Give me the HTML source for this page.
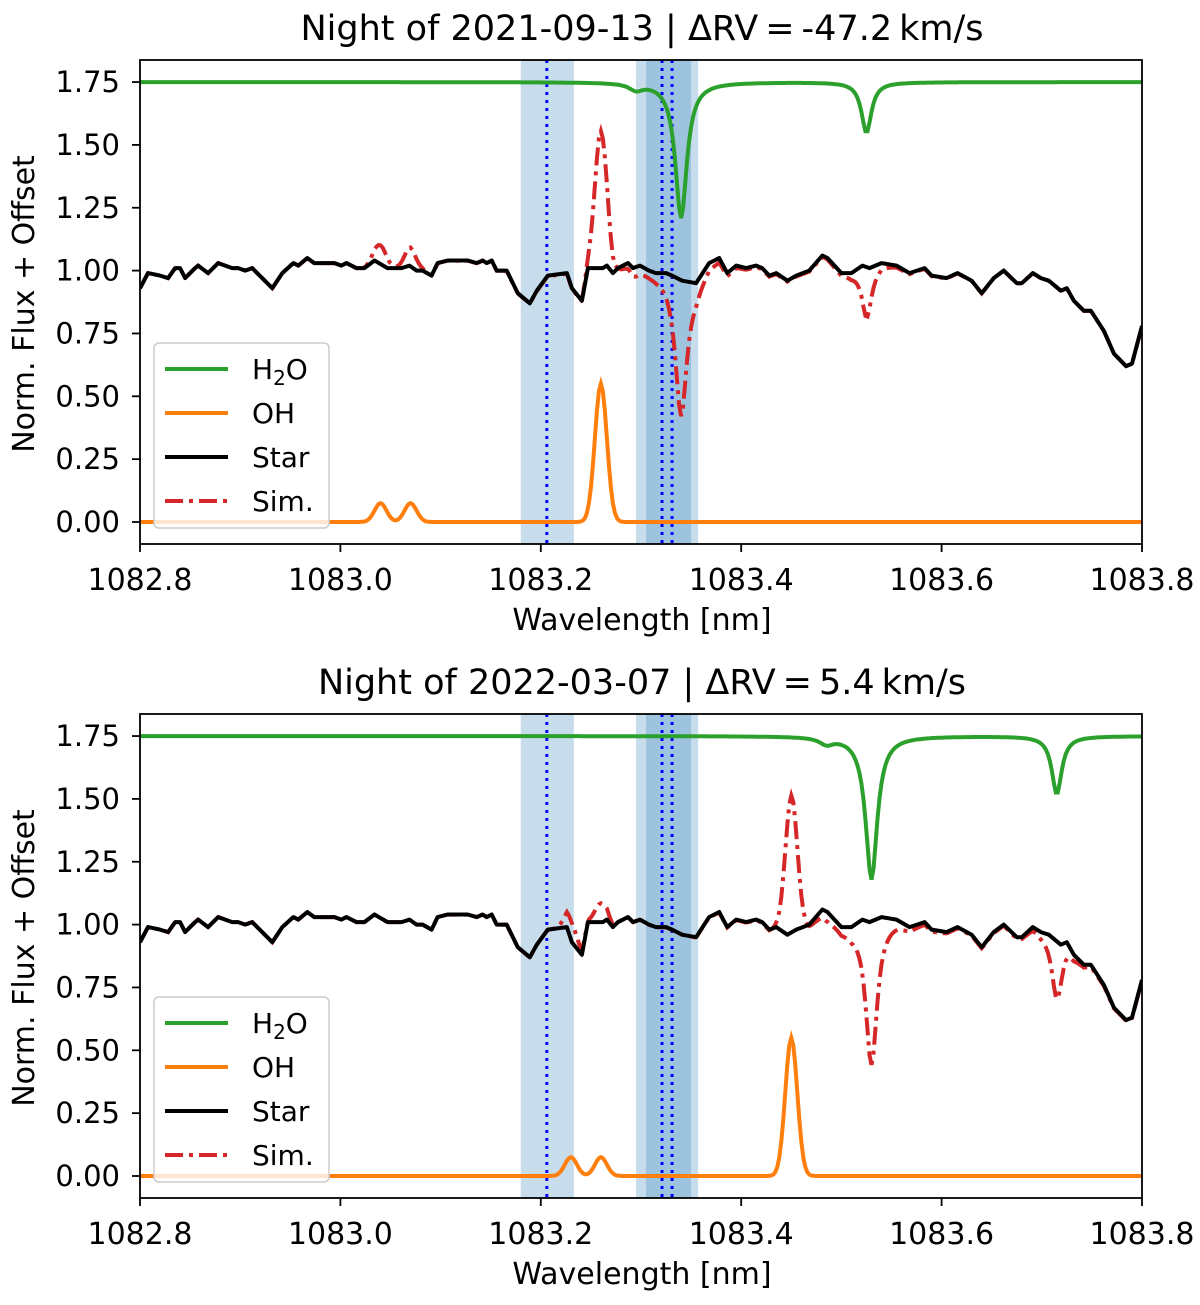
<!DOCTYPE html>
<html><head><meta charset="utf-8"><style>
body{margin:0;background:#fff;width:1200px;height:1300px;overflow:hidden}
svg{font-family:"DejaVu Sans","Liberation Sans",sans-serif}
</style></head><body>
<svg id="fig" width="1200" height="1300" xmlns="http://www.w3.org/2000/svg"></svg>
<script>
// Star spectrum (same in both panels)
const starWl=[1082.800,1082.808,1082.820,1082.828,1082.835,1082.840,1082.845,1082.855,1082.858,1082.868,1082.878,1082.892,1082.898,1082.905,1082.912,1082.922,1082.932,1082.942,1082.953,1082.958,1082.967,1082.974,1082.994,1083.001,1083.006,1083.016,1083.024,1083.034,1083.047,1083.061,1083.069,1083.076,1083.082,1083.091,1083.097,1083.107,1083.127,1083.136,1083.142,1083.146,1083.151,1083.156,1083.166,1083.177,1083.189,1083.196,1083.207,1083.226,1083.231,1083.241,1083.247,1083.256,1083.262,1083.266,1083.272,1083.277,1083.287,1083.292,1083.299,1083.308,1083.315,1083.325,1083.331,1083.341,1083.355,1083.368,1083.378,1083.386,1083.395,1083.405,1083.415,1083.421,1083.428,1083.435,1083.446,1083.455,1083.468,1083.481,1083.486,1083.500,1083.510,1083.521,1083.528,1083.540,1083.555,1083.568,1083.583,1083.590,1083.605,1083.616,1083.630,1083.640,1083.652,1083.662,1083.675,1083.680,1083.691,1083.699,1083.707,1083.719,1083.725,1083.732,1083.742,1083.749,1083.762,1083.772,1083.784,1083.790,1083.800];
const starFlux=[0.93,0.99,0.98,0.97,1.01,1.01,0.97,1.01,1.02,0.99,1.03,1.01,1.01,1.00,1.01,0.97,0.93,0.99,1.03,1.02,1.05,1.03,1.03,1.02,1.03,1.01,1.01,1.04,1.01,1.01,1.02,1.00,1.00,0.98,1.03,1.04,1.04,1.03,1.04,1.03,1.04,1.00,1.00,0.91,0.87,0.92,0.98,0.99,0.93,0.88,1.01,1.01,1.01,1.02,0.99,1.01,1.03,1.01,1.02,1.00,0.99,0.99,0.98,0.96,0.95,1.03,1.05,0.99,1.02,1.01,1.02,1.01,0.98,0.99,0.96,0.98,1.00,1.06,1.05,0.99,0.99,1.02,1.01,1.03,1.02,0.99,1.01,0.98,0.97,0.99,0.96,0.91,0.97,1.00,0.95,0.95,0.99,0.97,0.96,0.92,0.93,0.88,0.84,0.84,0.76,0.67,0.62,0.63,0.78];
// H2O lines per panel: centres, depths, widths
const h2oCenters1=[1083.295,1083.340,1083.525], h2oDepths1=[0.025,0.54,0.20], h2oWidths1=[0.008,0.007,0.006];
const h2oCenters2=[1083.485,1083.530,1083.715], h2oDepths2=[0.025,0.57,0.23], h2oWidths2=[0.008,0.007,0.006];
// OH lines per panel
const ohCenters1=[1083.040,1083.070,1083.260], ohAmps1=[0.075,0.075,0.55];
const ohCenters2=[1083.230,1083.260,1083.450], ohAmps2=[0.075,0.075,0.55];
const ohSigma=0.006;
const bands=[[1083.18,1083.233],[1083.295,1083.357],[1083.305,1083.350]];
const vlines=[1083.206,1083.321,1083.331];
const xTicks=[1082.8,1083.0,1083.2,1083.4,1083.6,1083.8];
const yTicks=[0,0.25,0.5,0.75,1.0,1.25,1.5,1.75];
const titles=["Night of 2021-09-13 | \u0394RV\u2009=\u2009-47.2\u2009km/s","Night of 2022-03-07 | \u0394RV\u2009=\u20095.4\u2009km/s"];

const NS="http://www.w3.org/2000/svg", svg=document.getElementById('fig');
function mk(t,a,p){const e=document.createElementNS(NS,t);for(const k in a)e.setAttribute(k,a[k]);(p||svg).appendChild(e);return e;}
function interp(x){for(let i=0;i<starWl.length-1;i++){if(x<=starWl[i+1]){const t=(x-starWl[i])/(starWl[i+1]-starWl[i]);return starFlux[i]+t*(starFlux[i+1]-starFlux[i]);}}return starFlux[starFlux.length-1];}

function panel(idx,top,zeroY,hc,hd,hw,oc,oa){
  const L=140,R=1142,B=top+484;
  const sx=w=>L+(w-1082.8)*1002;
  const sy=v=>zeroY-v*251.4;
  const g=mk('g',{});
  
  
  const clip=mk('clipPath',{id:'c'+idx},g);mk('rect',{x:L,y:top,width:R-L,height:B-top},clip);
  const pg=mk('g',{'clip-path':'url(#c'+idx+')'},g);
  bands.forEach((b,i)=>{const r=mk('rect',{x:sx(b[0]),y:top,width:sx(b[1])-sx(b[0]),height:B-top,fill:'#1f77b4','fill-opacity':0.25},pg);
    });
  vlines.forEach(v=>{const l=mk('line',{x1:sx(v),x2:sx(v),y1:top,y2:B,stroke:'#0000ff','stroke-width':3,'stroke-dasharray':'3,5'},pg);
    });
  const h2o=x=>{let s=1.75;hc.forEach((c,i)=>{s-=hd[i]/(1+((x-c)/hw[i])**2);});return s;};
  const oh=x=>{let s=0;oc.forEach((c,i)=>{s+=oa[i]*Math.exp(-0.5*((x-c)/ohSigma)**2);});return s;};
  const grid=[];for(let x=1082.8;x<=1083.8001;x+=0.002)grid.push(x);
  const path=f=>grid.map((x,i)=>(i?'L':'M')+sx(x).toFixed(1)+','+sy(f(x)).toFixed(1)).join('');
  let p=mk('path',{d:path(x=>interp(x)+oh(x)+h2o(x)-1.75),fill:'none',stroke:'#d62728','stroke-width':4,'stroke-dasharray':'18,6,4,6'},pg);
  
  p=mk('path',{d:path(h2o),fill:'none',stroke:'#2ca02c','stroke-width':4},pg);
  
  p=mk('path',{d:path(oh),fill:'none',stroke:'#ff7f0e','stroke-width':4},pg);
  
  p=mk('path',{d:starWl.map((w,i)=>(i?'L':'M')+sx(w).toFixed(1)+','+sy(starFlux[i]).toFixed(1)).join(''),fill:'none',stroke:'#000','stroke-width':4,'stroke-linejoin':'round'},pg);
  
  mk('rect',{x:L,y:top,width:R-L,height:B-top,fill:'none',stroke:'#000','stroke-width':1.8},g);
  xTicks.forEach(t=>{mk('line',{x1:sx(t),x2:sx(t),y1:B,y2:B+8,stroke:'#000','stroke-width':1.8},g);
    const tx=mk('text',{x:sx(t),y:B+46,'font-size':30,'text-anchor':'middle'},g);tx.textContent=t.toFixed(1);
    });
  yTicks.forEach(t=>{mk('line',{x1:L-8,x2:L,y1:sy(t),y2:sy(t),stroke:'#000','stroke-width':1.8},g);
    const tx=mk('text',{x:L-20,y:sy(t)+10,'font-size':29,'text-anchor':'end'},g);tx.textContent=t.toFixed(2);
    });
  let t=mk('text',{x:642,y:top-20,'font-size':35,'text-anchor':'middle'},g);t.textContent=titles[idx];
  
  t=mk('text',{x:642,y:B+86,'font-size':30,'text-anchor':'middle'},g);t.textContent='Wavelength [nm]';
  
  const cy=(top+B)/2+2;
  t=mk('text',{x:34,y:cy,'font-size':30,'text-anchor':'middle',transform:'rotate(-90 34 '+cy+')'},g);t.textContent='Norm. Flux + Offset';
  
  // legend
  const ly=top+283;
  const lg=mk('g',{},g);
  mk('rect',{x:154,y:ly,width:175,height:185,rx:5,fill:'#fff','fill-opacity':0.8,stroke:'#ccc','stroke-width':1.5},lg);
  const items=[['#2ca02c',null,'H2O'],['#ff7f0e',null,'OH'],['#000',null,'Star'],['#d62728','18,6,4,6','Sim.']];
  items.forEach((it,i)=>{const y=ly+26+i*44;
    const e=mk('g',{},lg);
    const a={x1:165,x2:228,y1:y,y2:y,stroke:it[0],'stroke-width':4};if(it[1])a['stroke-dasharray']=it[1];mk('line',a,e);
    const tx=mk('text',{x:252,y:y+10,'font-size':28},e);
    if(it[2]==='H2O'){tx.innerHTML='H<tspan font-size="20" dy="6">2</tspan><tspan dy="-6">O</tspan>';}else tx.textContent=it[2];});
}
panel(0,60,522,h2oCenters1,h2oDepths1,h2oWidths1,ohCenters1,ohAmps1);
panel(1,714,1176,h2oCenters2,h2oDepths2,h2oWidths2,ohCenters2,ohAmps2);
</script>
</body></html>
